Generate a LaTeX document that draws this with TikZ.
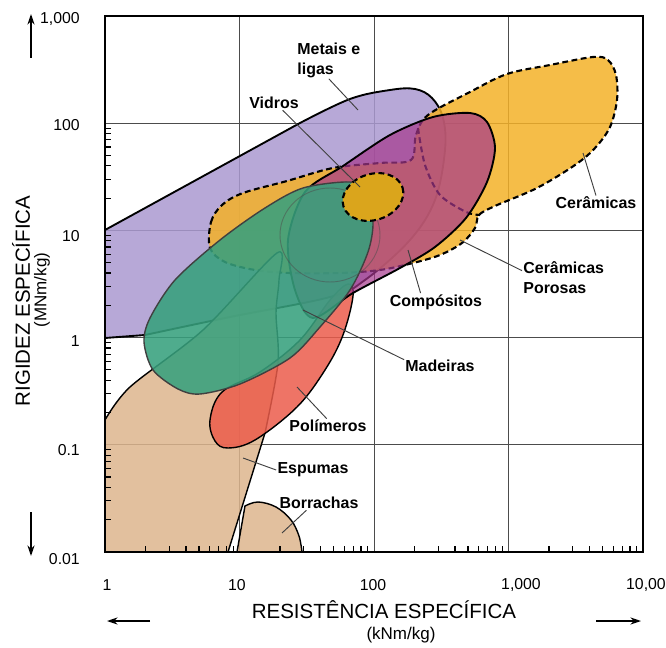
\documentclass[tikz,border=0pt]{standalone}
\usepackage{fontspec}
\setmainfont{Liberation Sans}
\usetikzlibrary{arrows.meta}

\definecolor{metalcol}{RGB}{170,153,208}
\definecolor{ceramcol}{RGB}{243,177,40}
\definecolor{foamcol}{RGB}{221,181,141}
\definecolor{polycol}{RGB}{235,92,75}
\definecolor{woodcol}{RGB}{55,160,125}
\definecolor{compcol}{RGB}{165,55,140}
\definecolor{glasscol}{RGB}{218,165,28}

\begin{document}
\begin{tikzpicture}[x=0.03cm, y=-0.03cm,
    region/.style={fill opacity=0.85, line width=1.2pt},
    dashline/.style={dash pattern=on 5pt off 3pt, line width=1.8pt},
    lbl/.style={font=\fontsize{13.6}{17}\selectfont\bfseries, inner sep=1pt},
    tlbl/.style={font=\fontsize{13.5}{16}\selectfont, inner sep=0pt},
    ttl/.style={font=\fontsize{17.5}{20}\selectfont, inner sep=0pt},
    unitlbl/.style={font=\fontsize{14.5}{17}\selectfont, inner sep=0pt},
    leader/.style={black!75, line width=0.8pt},
    axarrow/.style={line width=1.2pt, -{Stealth[length=9pt, width=6pt]}}]

    \useasboundingbox (0,0) rectangle (666,648);

    % Size of one decade on each axis
    \def\xdec{134.5}
    \def\ydec{107.2}

    % Grid lines
    \foreach \i in {1,2,3} {
      \draw[black!70, line width=0.8pt] (105+\i*\xdec,16) -- (105+\i*\xdec,552);
    }
    \foreach \i in {1,2,3,4} {
      \draw[black!70, line width=0.8pt] (105,552-\i*\ydec) -- (643,552-\i*\ydec);
    }

    % Metais e ligas
    \filldraw[region, fill=metalcol, line width=1.6pt] (105,338) -- (105,230) -- (300,123)
      -- plot[smooth, tension=0.6] coordinates {(300,123) (350,99) (390,90) (415,89) (432,98)
        (443,118) (445,150) (435,200) (410,240) (365,280) (330,297) (230,317) (145,335)} -- cycle;

    % Ceramicas (and porous ceramics)
    \filldraw[region, fill=ceramcol, dashline] plot[smooth cycle, tension=0.55] coordinates {
      (210,248) (211,222) (222,205) (243,193) (287,181) (333,168) (380,163) (411,160)
      (416,135) (428,115) (470,92) (507,74) (550,65) (593,57) (608,60) (616,75) (617,100)
      (610,127) (595,148) (575,165) (537,188) (495,206) (479,215) (475,228) (462,243)
      (440,255) (413,263) (380,270) (340,273) (290,273) (255,270) (225,262)};
    \draw[dashline] plot[smooth] coordinates {(418,128) (425,165) (440,195) (466,212) (480,215)};

    % Espumas
    \filldraw[region, fill=foamcol] (105,552) -- (105,420)
      -- plot[smooth, tension=0.5] coordinates {(105,420) (130,387) (203,330) (277,253)
        (279,280) (276,313) (278,363) (265,433)} -- (228,552) -- cycle;

    % Borrachas
    \filldraw[region, fill=foamcol] (237,552)
      -- plot[smooth, tension=0.6] coordinates {(245,506) (258,502) (276,507) (291,520)
        (299,536) (302,552)} -- cycle;

    % Polimeros
    \filldraw[region, fill=polycol] plot[smooth cycle, tension=0.6] coordinates {
      (210,420) (215,441) (228,448) (255,440) (297,407) (325,370) (343,335) (353,296)
      (348,284) (330,300) (300,340) (260,372) (222,392)};

    % Compositos
    \filldraw[region, fill=compcol, fill opacity=0.7, line width=1.6pt] plot[smooth cycle] coordinates {
      (313,318) (353,293) (400,268) (435,247) (466,218) (487,182) (495,148) (487,122)
      (470,113) (433,117) (390,135) (343,166) (305,192) (288,240) (295,290)};

    % Madeiras
    \filldraw[region, fill=woodcol, fill opacity=0.88, draw=black!75] plot[smooth cycle] coordinates {
      (144,342) (153,370) (178,389) (200,394) (240,384) (290,358) (320,327) (350,290)
      (368,252) (373,222) (366,192) (350,182) (303,188) (265,208) (220,240) (175,280) (150,318)};
    \draw[black!70, draw opacity=0.5, line width=0.8pt] (330,235) ellipse [x radius=50, y radius=47];

    % Vidros
    \filldraw[fill=glasscol, dashline, rotate around={18:(373,197)}] (373,197) ellipse [x radius=31, y radius=23];

    % Frame and minor ticks
    \draw[line width=1.8pt] (105,16) rectangle (643,552);
    \foreach \n in {0,...,3} {
      \foreach \k in {2,...,9} {
        \pgfmathsetmacro{\yy}{552-\n*\ydec-\ydec*log10(\k)}
        \pgfmathsetmacro{\xx}{105+\n*\xdec+\xdec*log10(\k)}
        \draw[line width=1pt] (105,\yy) -- (111,\yy);
        \draw[line width=1pt] (\xx,552) -- (\xx,546);
      }
    }

    % Region labels
    \node[lbl, anchor=west, align=left] (metais) at (296,60) {Metais e\\ligas};
    \node[lbl] (vidros) at (274,103) {Vidros};
    \node[lbl] (ceramicas) at (596,203) {Cerâmicas};
    \node[lbl, anchor=west, align=left] (porosas) at (522,278) {Cerâmicas\\Porosas};
    \node[lbl] (compositos) at (436,302) {Compósitos};
    \node[lbl] (madeiras) at (440,366) {Madeiras};
    \node[lbl] (polimeros) at (328,426) {Polímeros};
    \node[lbl] (espumas) at (313,470) {Espumas};
    \node[lbl] (borrachas) at (319,503) {Borrachas};

    % Leader lines
    \coordinate (metaisPt) at (358,110);
    \coordinate (vidrosPt) at (360,187);
    \coordinate (ceramicasPt) at (583,153);
    \coordinate (porosasPt) at (460,240);
    \coordinate (compositosPt) at (408,250);
    \coordinate (madeirasPt) at (303,310);
    \coordinate (polimerosPt) at (297,387);
    \coordinate (espumasPt) at (243,458);
    \coordinate (borrachasPt) at (282,533);
    \draw[leader] (metaisPt) -- (metais.south);
    \draw[leader] (vidrosPt) -- (vidros.-40);
    \draw[leader] (ceramicasPt) -- (ceramicas.north);
    \draw[leader] (porosasPt) -- (porosas.170);
    \draw[leader] (compositosPt) -- (compositos.150);
    \draw[leader] (madeirasPt) -- (madeiras.170);
    \draw[leader] (polimerosPt) -- (polimeros.100);
    \draw[leader] (espumasPt) -- (espumas.west);
    \draw[leader] (borrachasPt) -- (borrachas.210);

    % Tick labels
    \node[tlbl, anchor=east] (y1000) at (80,19) {1,000};
    \node[tlbl, anchor=east] (y100) at (80,125) {100};
    \node[tlbl, anchor=east] (y10) at (80,236) {10};
    \node[tlbl, anchor=east] (y1) at (80,341) {1};
    \node[tlbl, anchor=east] (y01) at (80,450) {0.1};
    \node[tlbl, anchor=east] (y001) at (80,559) {0.01};
    \node[tlbl] (x1) at (107,585) {1};
    \node[tlbl] (x10) at (237,585) {10};
    \node[tlbl] (x100) at (373,585) {100};
    \node[tlbl] (x1000) at (521,585) {1,000};
    \node[tlbl, anchor=east] (x10000) at (666,585) {10,00};

    % Axis titles
    \node[ttl, rotate=90] (ytitle) at (21,301) {RIGIDEZ ESPECÍFICA};
    \node[unitlbl, rotate=90] (yunit) at (42,290) {(MNm/kg)};
    \node[ttl] (xtitle) at (384,610) {RESISTÊNCIA ESPECÍFICA};
    \node[unitlbl] (xunit) at (401,635) {(kNm/kg)};

    % Direction arrows
    \coordinate (upA) at (31,58);
    \coordinate (upB) at (31,14);
    \coordinate (downA) at (31,512);
    \coordinate (downB) at (31,556);
    \coordinate (leftA) at (150,621);
    \coordinate (leftB) at (107,621);
    \coordinate (rightA) at (596,621);
    \coordinate (rightB) at (641,621);
    \draw[axarrow] (upA) -- (upB);
    \draw[axarrow] (downA) -- (downB);
    \draw[axarrow] (leftA) -- (leftB);
    \draw[axarrow] (rightA) -- (rightB);
  \end{tikzpicture}
\end{document}
